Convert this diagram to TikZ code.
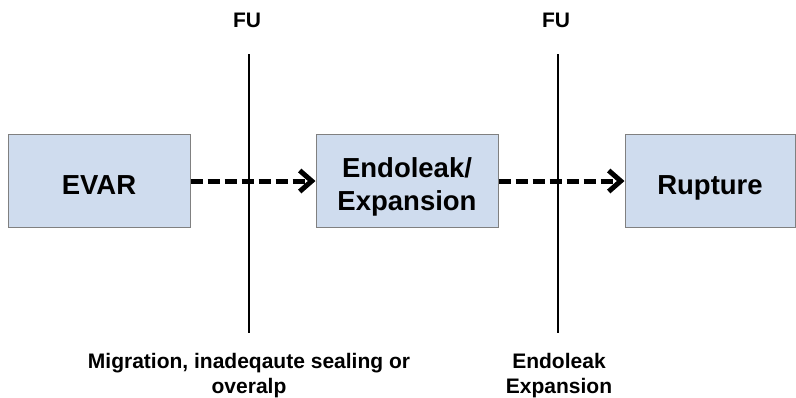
\documentclass[tikz,border=0pt]{standalone}
\usepackage{fontspec}
\setmainfont{Liberation Sans}
\usepackage{xcolor}
\usetikzlibrary{arrows.meta, positioning}

\definecolor{boxblue}{RGB}{207,220,238}
\definecolor{boxline}{RGB}{128,128,128}

\begin{document}
\begin{tikzpicture}[x=1pt, y=-1pt,
    stage/.style={draw=boxline, line width=1pt, fill=boxblue, minimum height=93pt, inner sep=0pt,
        align=center, text height=27.5pt, text depth=0pt, font=\fontsize{27.5}{33}\selectfont\bfseries},
    flow/.style={line width=5pt, dash pattern=on 12pt off 5pt, -{Straight Barb[length=12pt, width=21pt]}},
    cut/.style={line width=2.5pt},
    note/.style={align=center, inner sep=0pt, font=\fontsize{21}{25}\selectfont\bfseries}]
    \useasboundingbox (0,0) rectangle (796,397);

    \node[stage, minimum width=182pt] (evar) at (99,181) {EVAR};
    \node[stage, minimum width=182pt, text height=60pt, text depth=2pt] (leak) at (407,181) {Endoleak/\\Expansion};
    \node[stage, minimum width=170pt] (rupture) at (710,181) {Rupture};

    \draw[flow] (evar.east) -- (leak.west);
    \draw[flow] (leak.east) -- (rupture.west);

    \coordinate (fuAtop) at (249,54);
    \coordinate (fuAbot) at (249,333);
    \coordinate (fuBtop) at (558,54);
    \coordinate (fuBbot) at (558,333);
    \draw[cut] (fuAtop) -- (fuAbot);
    \draw[cut] (fuBtop) -- (fuBbot);

    \node[note] (fuA) at (247,20) {FU};
    \node[note] (fuB) at (556,20) {FU};
    \node[note, anchor=north] (causeA) at (249,353) {Migration, inadeqaute sealing or\\overalp};
    \node[note, anchor=north] (causeB) at (559,353) {Endoleak\\Expansion};
\end{tikzpicture}
\end{document}
